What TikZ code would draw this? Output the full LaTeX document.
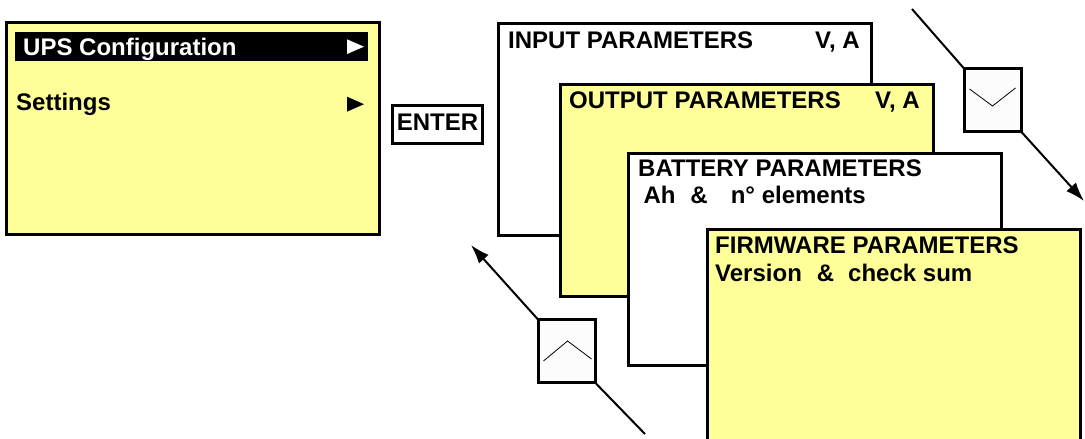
\documentclass[tikz,border=0pt]{standalone}
\usepackage{fontspec}
\setmainfont{Liberation Sans}
\usepackage{tikz}
\usetikzlibrary{arrows.meta}

\definecolor{lcdyellow}{RGB}{255,255,153}
\definecolor{keygrey}{RGB}{252,252,252}

\tikzset{
  screen/.style={draw, line width=3pt, anchor=north west, inner sep=0pt, outer sep=0pt,
                 minimum width=373pt, minimum height=212pt},
  lcdtext/.style={anchor=base west, inner sep=0pt, font=\bfseries\fontsize{24}{28}\selectfont},
  keybox/.style={draw, line width=3pt, fill=keygrey, inner sep=0pt, outer sep=0pt,
                 minimum width=57pt, minimum height=63pt},
  keyline/.style={line width=2pt},
}

\begin{document}
\begin{tikzpicture}[x=1pt, y=-1pt]
  \clip (0,0) rectangle (1085,439);

  % main menu screen
  \node[screen, fill=lcdyellow] (ups) at (6.5,22.5) {};
  \fill[black] (15,32) rectangle (368,61);
  \node[lcdtext, text=white] (upsconf) at (23,55) {UPS Configuration};
  \fill[white] (347,39.3) -- (364,46.7) -- (347,54) -- cycle;
  \node[lcdtext] (settings) at (16,110) {Settings};
  \fill[black] (347,96.7) -- (364,104.2) -- (347,111.7) -- cycle;

  % enter key
  \node[draw, line width=3.5pt, inner sep=0pt, outer sep=0pt, minimum width=90pt, minimum height=38pt,
        text height=17pt, text depth=6pt, font=\bfseries\fontsize{24}{28}\selectfont]
        (enter) at (437.5,124.5) {ENTER};

  % parameter screens
  \node[screen, fill=white] (input) at (498.5,23) {};
  \node[lcdtext] (inputtitle) at (508,48) {INPUT PARAMETERS};
  \node[lcdtext] (inputunit) at (815,48) {V, A};

  \node[screen, fill=lcdyellow] (output) at (560,84) {};
  \node[lcdtext] (outputtitle) at (569,108) {OUTPUT PARAMETERS};
  \node[lcdtext] (outputunit) at (875,108) {V, A};

  \node[screen, fill=white] (battery) at (628,153) {};
  \node[lcdtext] (batterytitle) at (638,176.7) {BATTERY PARAMETERS};
  \node[lcdtext] (batteryinfo) at (643.3,203.3) {Ah\hspace{15pt}\&\hspace{23pt}n° elements};

  \node[screen, fill=lcdyellow] (firmware) at (707.5,229) {};
  \node[lcdtext] (firmwaretitle) at (715,253.3) {FIRMWARE PARAMETERS};
  \node[lcdtext] (firmwareinfo) at (715,281) {Version\hspace{15pt}\&\hspace{14pt}check sum};

  % down key
  \node[keybox] (down) at (992.5,100) {};
  \draw[line width=0.8pt] ([shift={(-23,-11)}]down.center) -- ([shift={(0,6)}]down.center)
                       -- ([shift={(23,-12)}]down.center);
  \coordinate (dntail) at (912,9);
  \coordinate (dnhead) at (1084,201);
  \draw[keyline] (dntail) -- (down.north west);
  \draw[keyline, -{Latex[length=19pt, width=13pt]}] (down.south east) -- (dnhead);

  % up key
  \node[keybox] (up) at (566.5,351) {};
  \draw[line width=0.8pt] ([shift={(-23,10)}]up.center) -- ([shift={(1,-10)}]up.center)
                       -- ([shift={(25,8)}]up.center);
  \coordinate (uptail) at (645,434);
  \coordinate (uphead) at (471,245);
  \draw[keyline] (uptail) -- (up.south east);
  \draw[keyline, -{Latex[length=19pt, width=13pt]}] (up.north west) -- (uphead);
\end{tikzpicture}
\end{document}
